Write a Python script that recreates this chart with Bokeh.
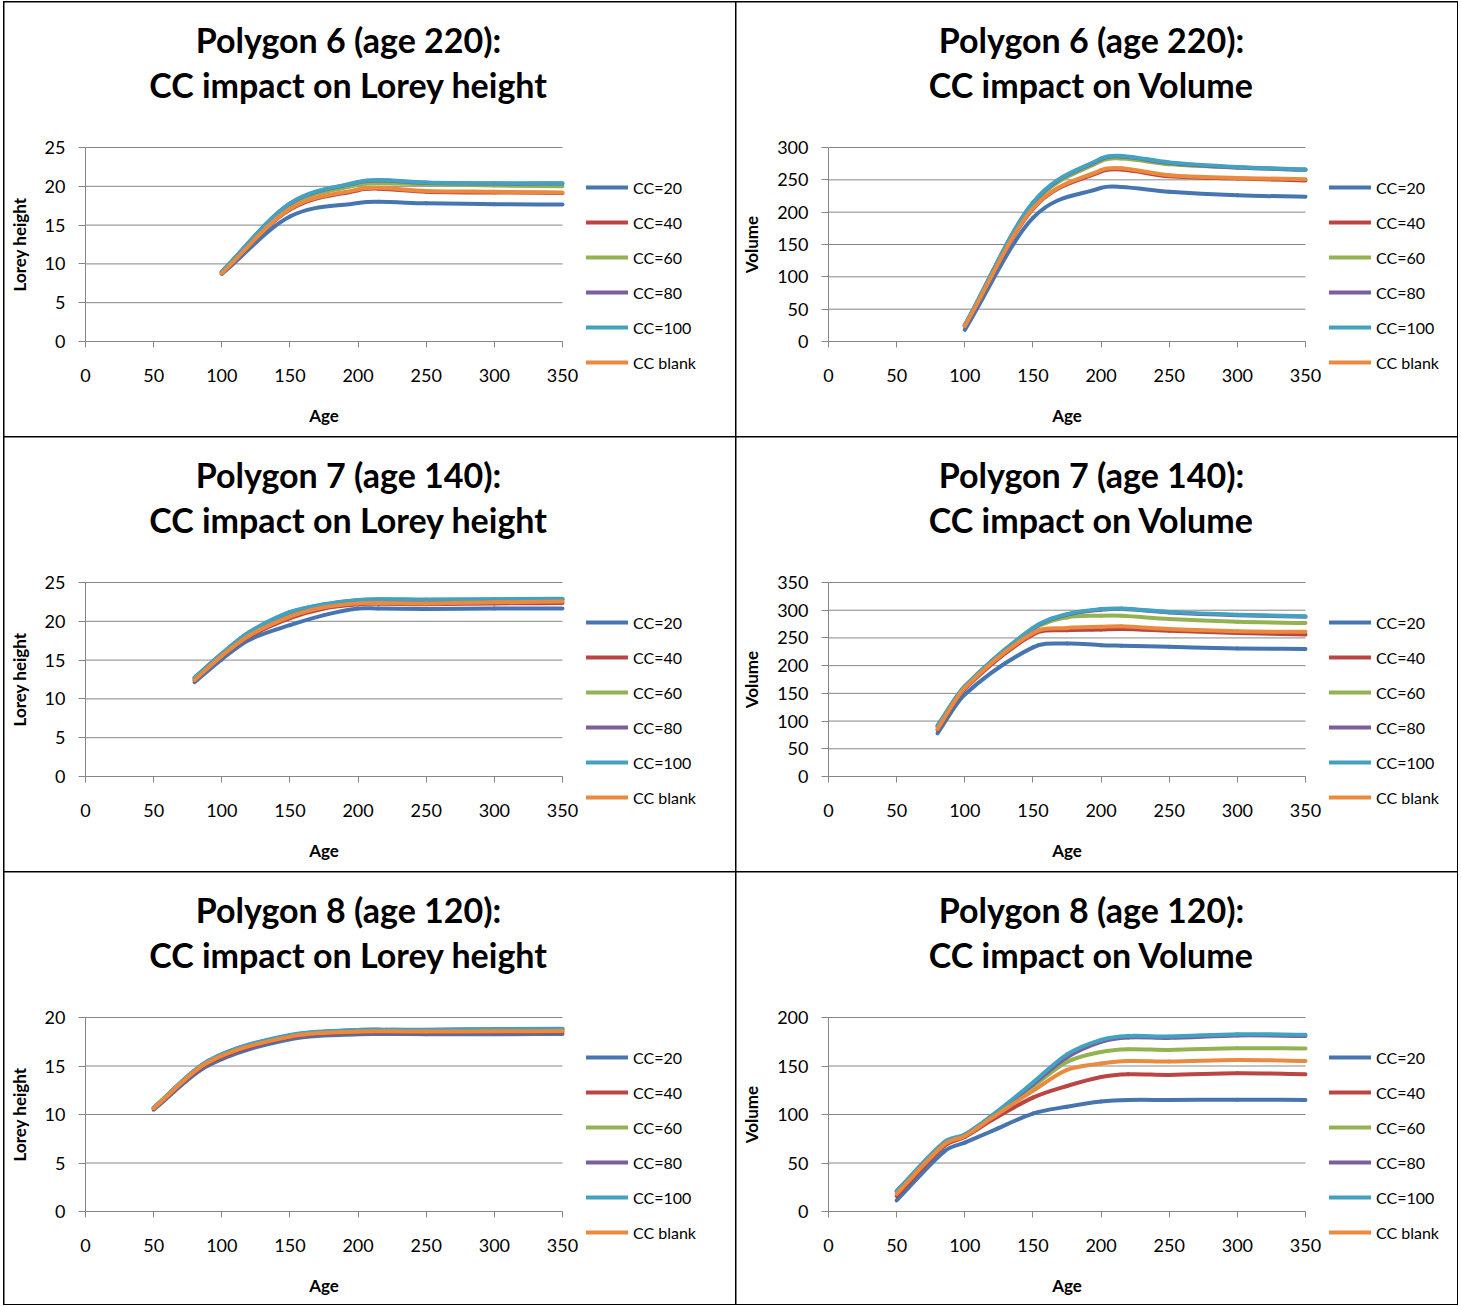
from bokeh.plotting import figure
from bokeh.models import Range1d, FixedTicker, Legend, LegendItem, Label, Spacer
from bokeh.layouts import column, row
from bokeh.embed import file_html
from bokeh.resources import INLINE

# ---------------- data ----------------
SERIES = ["CC=20", "CC=40", "CC=60", "CC=80", "CC=100", "CC blank"]
COLORS = ["#4675B0", "#BA4542", "#93B353", "#7A5E9E", "#43A2BF", "#EA8A3F"]
X_TICKS = [0, 50, 100, 150, 200, 250, 300, 350]

# Polygon 6 (age 220)
P6_AGES = [100, 150, 200, 215, 250, 300, 350]
P6_HT_CC20 = [8.7, 16.1, 17.85, 18.0, 17.8, 17.7, 17.65]
P6_HT_CC40 = [8.8, 17.0, 19.5, 19.7, 19.3, 19.2, 19.15]
P6_HT_CC60 = [8.9, 17.5, 20.2, 20.4, 20.25, 20.1, 20.0]
P6_HT_CC80 = [9.0, 17.75, 20.5, 20.75, 20.45, 20.35, 20.35]
P6_HT_CC100 = [9.0, 17.8, 20.55, 20.8, 20.5, 20.4, 20.4]
P6_HT_BLANK = [8.8, 17.1, 19.6, 19.8, 19.4, 19.3, 19.2]

P6_VOL_CC20 = [18, 191, 237.5, 239, 231.5, 226, 224]
P6_VOL_CC40 = [24, 205, 263, 266, 255.5, 252, 249]
P6_VOL_CC60 = [25, 212, 279, 283, 274, 269, 266]
P6_VOL_CC80 = [25, 214, 282, 286, 276, 269, 265.5]
P6_VOL_CC100 = [25, 215, 283, 287, 277, 270, 266]
P6_VOL_BLANK = [24, 206, 265, 268, 257, 253, 251]

# Polygon 7 (age 140)
P7_HT_AGES = [80, 100, 120, 150, 175, 200, 215, 250, 300, 350]
P7_HT_CC20 = [12.15, 15.1, 17.6, 19.5, 20.8, 21.65, 21.65, 21.6, 21.65, 21.65]
P7_HT_CC40 = [12.4, 15.5, 18.0, 20.4, 21.65, 22.2, 22.25, 22.2, 22.3, 22.35]
P7_HT_CC60 = [12.6, 15.7, 18.4, 21.0, 22.05, 22.6, 22.7, 22.65, 22.7, 22.75]
P7_HT_CC80 = [12.7, 15.8, 18.55, 21.15, 22.15, 22.7, 22.8, 22.75, 22.8, 22.85]
P7_HT_CC100 = [12.75, 15.85, 18.6, 21.2, 22.2, 22.75, 22.85, 22.8, 22.85, 22.9]
P7_HT_BLANK = [12.45, 15.55, 18.15, 20.6, 21.8, 22.3, 22.35, 22.3, 22.45, 22.55]

P7_VOL_AGES = [80, 100, 150, 175, 200, 215, 250, 300, 350]
P7_VOL_CC20 = [78, 148, 233, 240, 237, 236, 234, 231, 230]
P7_VOL_CC40 = [84, 158, 256, 264, 265, 266, 263, 259, 256]
P7_VOL_CC60 = [89, 161, 265, 287, 290, 290, 284, 279, 277]
P7_VOL_CC80 = [91, 162, 267, 292, 301, 302, 296, 291, 288]
P7_VOL_CC100 = [92, 163, 268, 293, 302, 303, 297, 292, 289]
P7_VOL_BLANK = [86, 160, 259, 268, 270, 271, 266, 262, 261]

# Polygon 8 (age 120)
P8_HT_AGES = [50, 90, 150, 200, 220, 250, 300, 350]
P8_HT_CC20 = [10.5, 15.05, 17.76, 18.28, 18.3, 18.28, 18.28, 18.3]
P8_HT_CC40 = [10.6, 15.25, 17.95, 18.45, 18.48, 18.45, 18.48, 18.5]
P8_HT_CC60 = [10.65, 15.45, 18.1, 18.62, 18.65, 18.65, 18.7, 18.72]
P8_HT_CC80 = [10.7, 15.5, 18.15, 18.7, 18.72, 18.72, 18.78, 18.82]
P8_HT_CC100 = [10.7, 15.55, 18.2, 18.72, 18.75, 18.75, 18.8, 18.85]
P8_HT_BLANK = [10.65, 15.4, 18.03, 18.55, 18.58, 18.55, 18.58, 18.6]

P8_VOL_AGES = [50, 85, 100, 120, 150, 175, 200, 220, 250, 300, 350]
P8_VOL_CC20 = [11.4, 62, 71, 83, 101, 108, 113.3, 115, 115, 115.3, 115]
P8_VOL_CC40 = [15.8, 67.5, 76.8, 94.3, 117.4, 129.4, 138.7, 141.5, 140.8, 142.5, 141.5]
P8_VOL_CC60 = [20, 70.5, 78.5, 97.8, 128.7, 154.2, 164.5, 167.3, 166.6, 168.3, 168]
P8_VOL_CC80 = [21, 71, 79, 98.5, 131, 159, 175, 179.5, 179, 181.5, 181]
P8_VOL_CC100 = [21, 71.6, 79.5, 99.1, 132.9, 162, 177, 181, 180.4, 182.8, 182.1]
P8_VOL_BLANK = [18.2, 69.2, 77.8, 96.7, 124.3, 146, 152.5, 155.2, 154.6, 156.3, 155.2]

# ---------------- layout constants (pixels) ----------------
FONT = "Lato"
GRAY = "#868686"
PLOT_W, PLOT_H = 477, 194      # size of the 0..350 x 0..ymax area
PLOT_TOP = 145                 # distance from panel top to ymax gridline
X_MAX = 350


def smooth(xs, ys):
    """Smoothed line: cubic Hermite (Bezier) segments through the data points,
    with central-difference slopes, valid for uneven x spacing."""
    n = len(xs)
    m = []
    for i in range(n):
        a = max(i - 1, 0)
        b = min(i + 1, n - 1)
        m.append((ys[b] - ys[a]) / (xs[b] - xs[a]))
    seg = dict(x0=[], y0=[], x1=[], y1=[], cx0=[], cy0=[], cx1=[], cy1=[])
    for i in range(n - 1):
        h = xs[i + 1] - xs[i]
        seg["x0"].append(xs[i]); seg["y0"].append(ys[i])
        seg["x1"].append(xs[i + 1]); seg["y1"].append(ys[i + 1])
        seg["cx0"].append(xs[i] + h / 3.0)
        seg["cy0"].append(ys[i] + m[i] * h / 3.0)
        seg["cx1"].append(xs[i + 1] - h / 3.0)
        seg["cy1"].append(ys[i + 1] - m[i + 1] * h / 3.0)
    return seg


def make_panel(title1, title2, ylabel, ymax, ystep, ages, series_vals,
               width, height, plot_left, title_cx, legend_x):
    kx = PLOT_W / X_MAX
    ky = PLOT_H / ymax
    x0 = -plot_left / kx
    y0 = -(height - PLOT_TOP - PLOT_H) / ky
    p = figure(width=width, height=height,
               x_range=Range1d(x0, x0 + width / kx),
               y_range=Range1d(y0, y0 + height / ky),
               output_backend="svg", toolbar_location=None,
               min_border=0, min_border_left=0, min_border_right=0,
               min_border_top=0, min_border_bottom=0)
    p.outline_line_color = None
    p.background_fill_color = "white"
    p.border_fill_color = "white"
    p.grid.visible = False

    y_ticks = list(range(0, ymax + 1, ystep))
    # horizontal gridlines across the 0..350 span
    p.segment(x0=[0] * len(y_ticks), x1=[X_MAX] * len(y_ticks), y0=y_ticks, y1=y_ticks,
              line_color=GRAY, line_width=1)

    p.xaxis.ticker = FixedTicker(ticks=X_TICKS)
    p.yaxis.ticker = FixedTicker(ticks=y_ticks)
    p.xaxis.fixed_location = 0
    p.yaxis.fixed_location = 0
    p.xaxis.bounds = (0, X_MAX)
    p.yaxis.bounds = (0, ymax)
    for ax in (p.xaxis, p.yaxis):
        ax.axis_line_color = GRAY
        ax.major_tick_line_color = GRAY
        ax.minor_tick_line_color = None
        ax.major_tick_in = 0
        ax.major_label_text_font = FONT
        ax.major_label_text_font_size = "18px"
        ax.major_label_text_color = "black"
        ax.axis_label_text_font = FONT
        ax.axis_label_text_font_size = "17px"
        ax.axis_label_text_font_style = "bold"
        ax.axis_label_text_color = "black"
    p.xaxis.major_tick_out = 6
    p.yaxis.major_tick_out = 7
    p.xaxis.major_label_standoff = 21
    p.yaxis.major_label_standoff = 13
    p.xaxis.axis_label = "Age"
    p.xaxis.axis_label_standoff = 20
    p.yaxis.axis_label = ylabel
    p.yaxis.axis_label_standoff = 12

    items = []
    for name, color, vals in zip(SERIES, COLORS, series_vals):
        r = p.bezier(source=smooth(ages, vals), x0="x0", y0="y0", x1="x1", y1="y1",
                     cx0="cx0", cy0="cy0", cx1="cx1", cy1="cy1",
                     line_color=color, line_width=4, line_cap="round")
        items.append(LegendItem(label=name, renderers=[r]))

    legend_top = PLOT_TOP + 30
    legend_h = 6 * 20 + 5 * 15
    leg = Legend(items=items, location=(legend_x, height - legend_top - legend_h),
                 orientation="vertical",
                 glyph_width=42, glyph_height=20, label_height=20, spacing=15,
                 padding=0, margin=0, label_standoff=5,
                 border_line_color=None, background_fill_alpha=0,
                 label_text_font=FONT, label_text_font_size="16px",
                 label_text_color="black")
    p.add_layout(leg)

    for txt, cy in ((title1, 37), (title2, 82)):
        p.add_layout(Label(x=title_cx, y=height - cy, x_units="screen", y_units="screen",
                           text=txt, text_align="center", text_baseline="middle",
                           text_font=FONT, text_font_size="34px",
                           text_font_style="bold", text_color="black"))

    p.styles = {"outline": "2px solid black", "outline-offset": "-1px"}
    return p


LW, RW = 732, 721
L_ARGS = dict(width=LW, plot_left=81, title_cx=344, legend_x=582)
R_ARGS = dict(width=RW, plot_left=92, title_cx=355, legend_x=593)

p1 = make_panel("Polygon 6 (age 220):", "CC impact on Lorey height", "Lorey height", 25, 5, P6_AGES,
                [P6_HT_CC20, P6_HT_CC40, P6_HT_CC60, P6_HT_CC80, P6_HT_CC100, P6_HT_BLANK],
                height=435, **L_ARGS)
p2 = make_panel("Polygon 6 (age 220):", "CC impact on Volume", "Volume", 300, 50, P6_AGES,
                [P6_VOL_CC20, P6_VOL_CC40, P6_VOL_CC60, P6_VOL_CC80, P6_VOL_CC100, P6_VOL_BLANK],
                height=435, **R_ARGS)
p3 = make_panel("Polygon 7 (age 140):", "CC impact on Lorey height", "Lorey height", 25, 5, P7_HT_AGES,
                [P7_HT_CC20, P7_HT_CC40, P7_HT_CC60, P7_HT_CC80, P7_HT_CC100, P7_HT_BLANK],
                height=435, **L_ARGS)
p4 = make_panel("Polygon 7 (age 140):", "CC impact on Volume", "Volume", 350, 50, P7_VOL_AGES,
                [P7_VOL_CC20, P7_VOL_CC40, P7_VOL_CC60, P7_VOL_CC80, P7_VOL_CC100, P7_VOL_BLANK],
                height=435, **R_ARGS)
p5 = make_panel("Polygon 8 (age 120):", "CC impact on Lorey height", "Lorey height", 20, 5, P8_HT_AGES,
                [P8_HT_CC20, P8_HT_CC40, P8_HT_CC60, P8_HT_CC80, P8_HT_CC100, P8_HT_BLANK],
                height=432, **L_ARGS)
p6 = make_panel("Polygon 8 (age 120):", "CC impact on Volume", "Volume", 200, 50, P8_VOL_AGES,
                [P8_VOL_CC20, P8_VOL_CC40, P8_VOL_CC60, P8_VOL_CC80, P8_VOL_CC100, P8_VOL_BLANK],
                height=432, **R_ARGS)

grid = column(row(p1, p2), row(p3, p4), row(p5, p6))
layout = column(Spacer(height=2), row(Spacer(width=4), grid))

open("out.html", "w").write(file_html(layout, INLINE))
